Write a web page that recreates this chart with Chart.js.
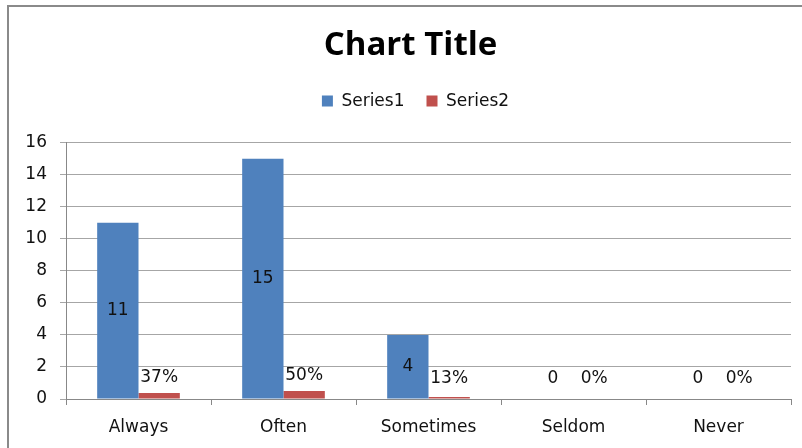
<!DOCTYPE html>
<html>

<head>
    <title>Chart Title</title>
    <script src="https://cdn.jsdelivr.net/npm/chart.js@4.4.1/dist/chart.umd.min.js"></script>
    <style>
        html, body { margin: 0; padding: 0; background: #fff; }
        #wrap { position: relative; width: 802px; height: 448px; overflow: hidden; }
        #frame { position: absolute; left: 7px; top: 5px; width: 820px; height: 470px; border: 2px solid #8a8a8a; box-sizing: border-box; }
        #chartBox { position: absolute; left: 0; top: 0; width: 802px; height: 448px; }
    </style>
</head>

<body>
    <div id="wrap">
        <div id="frame"></div>
        <div id="chartBox"><canvas id="myChart"></canvas></div>
    </div>

    <script>
        // values
        var categories = ['Always', 'Often', 'Sometimes', 'Seldom', 'Never'];
        var series1 = [11, 15, 4, 0, 0];
        var series2 = [0.37, 0.50, 0.13, 0, 0];
        var series2Labels = ['37%', '50%', '13%', '0%', '0%'];
        var yTicks = [0, 2, 4, 6, 8, 10, 12, 14, 16];

        var labelFont = '17px "DejaVu Sans"';

        // draws the value labels like Excel does (center for series1, outside end for series2)
        var barLabels = {
            id: 'barLabels',
            afterDatasetsDraw: function (chart) {
                var ctx = chart.ctx;
                ctx.save();
                ctx.font = labelFont;
                ctx.fillStyle = '#111';
                ctx.textAlign = 'center';
                ctx.textBaseline = 'middle';
                chart.getDatasetMeta(0).data.forEach(function (bar, i) {
                    var y = series1[i] > 0 ? (bar.y + bar.base) / 2 : bar.base - 20;
                    ctx.fillText(String(series1[i]), bar.x, y);
                });
                chart.getDatasetMeta(1).data.forEach(function (bar, i) {
                    ctx.fillText(series2Labels[i], bar.x, Math.min(bar.y - 15, bar.base - 20));
                });
                ctx.restore();
            }
        };

        // extra room under the legend, and title/legend centred on the (wider) chart frame
        var headerTweaks = {
            id: 'headerTweaks',
            beforeInit: function (chart) {
                var fit = chart.legend.fit;
                chart.legend.fit = function () {
                    fit.bind(chart.legend)();
                    this.height += 23;
                };
            },
            afterLayout: function (chart) {
                chart.titleBlock.left += 30;
                chart.legend.left += 40;
            }
        };

        var ctx = document.getElementById('myChart');

        new Chart(ctx, {
            type: 'bar',
            data: {
                labels: categories,
                datasets: [{
                    label: 'Series1',
                    data: series1,
                    backgroundColor: '#4F81BD'
                }, {
                    label: 'Series2',
                    data: series2,
                    backgroundColor: '#C0504D'
                }]
            },
            options: {
                responsive: true,
                maintainAspectRatio: false,
                animation: false,
                categoryPercentage: 0.57,
                barPercentage: 1.0,
                layout: {
                    padding: { top: 7, right: 11, bottom: 0, left: 0 }
                },
                plugins: {
                    title: {
                        display: true,
                        text: 'Chart Title',
                        color: '#000',
                        font: { family: '"Open Sans"', size: 33, weight: 'bold' },
                        padding: { top: 19, bottom: 5 }
                    },
                    legend: {
                        display: true,
                        labels: {
                            boxWidth: 11,
                            boxHeight: 11,
                            color: '#111',
                            font: { family: '"DejaVu Sans"', size: 17 },
                            padding: 22
                        }
                    },
                    tooltip: { enabled: false }
                },
                scales: {
                    x: {
                        grid: {
                            drawOnChartArea: false,
                            drawTicks: true,
                            tickLength: 6,
                            color: '#888'
                        },
                        border: { color: '#888' },
                        ticks: {
                            color: '#111',
                            font: { family: '"DejaVu Sans"', size: 17 },
                            padding: 12
                        },
                        afterFit: function (scale) { scale.height = 49; }
                    },
                    y: {
                        min: 0,
                        max: 16,
                        afterBuildTicks: function (scale) {
                            scale.ticks = yTicks.map(function (v) { return { value: v }; });
                        },
                        grid: {
                            color: '#a6a6a6',
                            tickLength: 6
                        },
                        border: { color: '#888' },
                        ticks: {
                            color: '#111',
                            font: { family: '"DejaVu Sans"', size: 17 },
                            padding: 13
                        },
                        afterFit: function (scale) { scale.width = 66; }
                    }
                }
            },
            plugins: [barLabels, headerTweaks]
        });
    </script>
</body>

</html>
